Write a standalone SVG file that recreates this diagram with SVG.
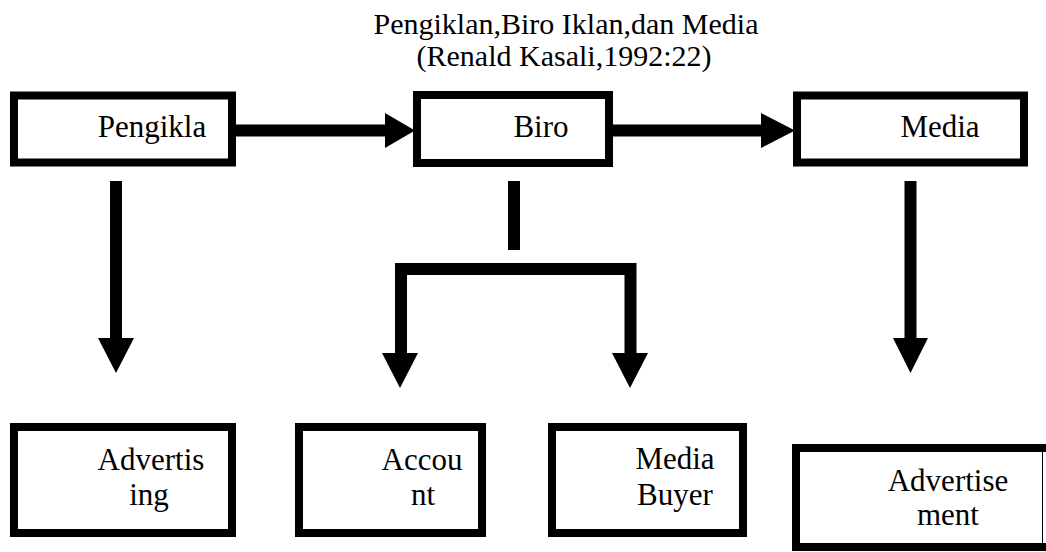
<svg xmlns="http://www.w3.org/2000/svg" width="1046" height="552" viewBox="0 0 1046 552">
<style>
.box{fill:#fff;stroke:#000;stroke-width:8}
.t{font-family:"Liberation Serif","Times New Roman",serif;font-size:31px;fill:#000;text-anchor:middle}
.title{font-family:"Liberation Serif","Times New Roman",serif;font-size:30px;fill:#000;text-anchor:middle}
.sh{stroke:#000;stroke-width:12;fill:none}
.hd{fill:#000}
</style>
<rect width="1046" height="552" fill="#fff"/>
<g id="title">
<text class="title" x="566" y="34">Pengiklan,Biro Iklan,dan Media</text>
<text class="title" x="564" y="66">(Renald Kasali,1992:22)</text>
</g>
<g id="connectors">
<line class="sh" x1="236" y1="130.5" x2="386" y2="130.5"/>
<polygon class="hd" points="385,113 415,130.5 385,148"/>
<line class="sh" x1="613" y1="130.5" x2="762" y2="130.5"/>
<polygon class="hd" points="761,113 795,130.5 761,148"/>
<line class="sh" x1="116" y1="181" x2="116" y2="339"/>
<polygon class="hd" points="98,338 134,338 116,373"/>
<line class="sh" x1="910.5" y1="181" x2="910.5" y2="339"/>
<polygon class="hd" points="893,338 928,338 910.5,373"/>
<line class="sh" x1="514" y1="181" x2="514" y2="250"/>
<path class="sh" d="M401,354 V269 H630.5 V354" stroke-linejoin="miter"/>
<polygon class="hd" points="382,353 418,353 400,388"/>
<polygon class="hd" points="612,353 648,353 630,388"/>
</g>
<g id="pengikla">
<rect class="box" x="14" y="95.5" width="218" height="67"/>
<text class="t" x="152" y="137">Pengikla</text>
</g>
<g id="biro">
<rect class="box" x="417" y="95" width="192" height="68"/>
<text class="t" x="541" y="137">Biro</text>
</g>
<g id="media">
<rect class="box" x="797" y="95.5" width="227" height="67"/>
<text class="t" x="940" y="137">Media</text>
</g>
<g id="advertising">
<rect class="box" x="14" y="427" width="218" height="106"/>
<text class="t" x="151" y="470">Advertis</text>
<text class="t" x="149" y="505">ing</text>
</g>
<g id="account">
<rect class="box" x="299" y="427" width="183" height="106"/>
<text class="t" x="422" y="470">Accou</text>
<text class="t" x="423" y="505">nt</text>
</g>
<g id="media-buyer">
<rect class="box" x="552" y="427" width="191" height="106"/>
<text class="t" x="675" y="469">Media</text>
<text class="t" x="675" y="505">Buyer</text>
</g>
<g id="advertisement">
<rect class="box" x="796" y="448" width="262" height="99"/>
<line x1="1042.5" y1="444" x2="1042.5" y2="551" stroke="#000" stroke-width="1"/>
<text class="t" x="948" y="491">Advertise</text>
<text class="t" x="948" y="525">ment</text>
</g>
</svg>
